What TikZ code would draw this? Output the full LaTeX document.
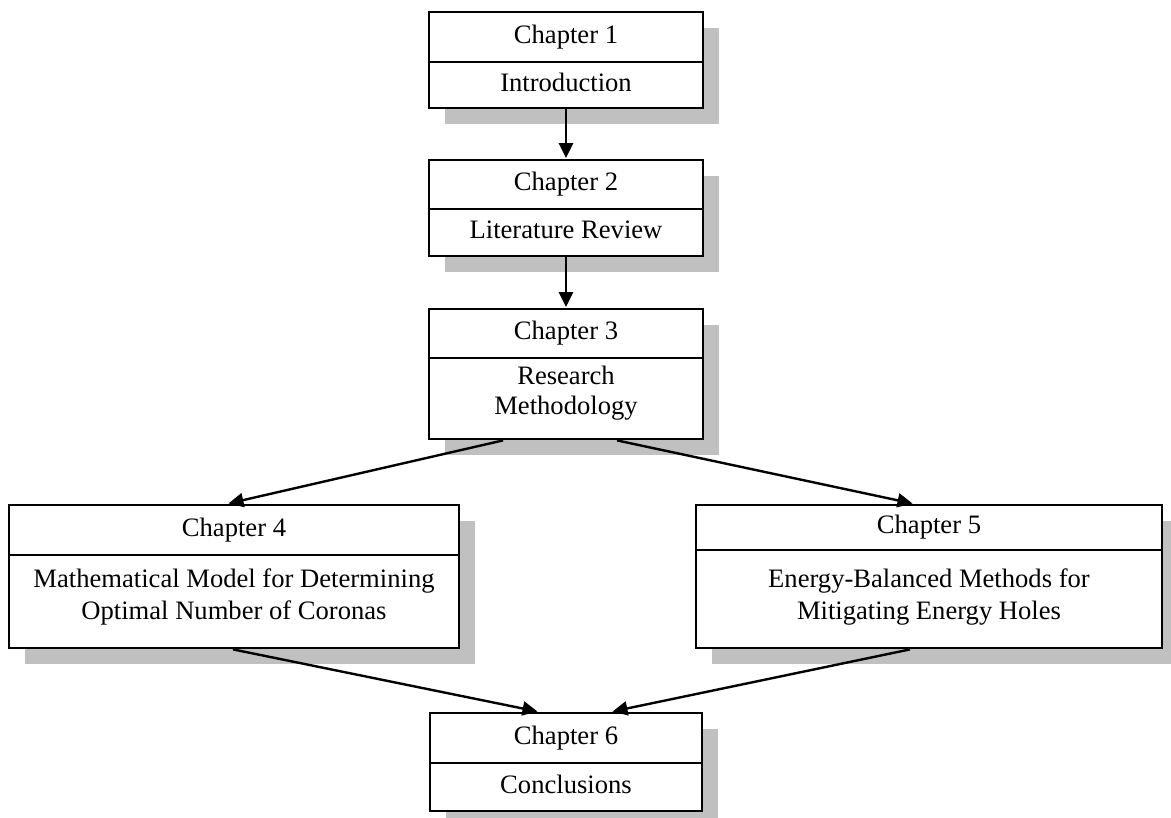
\documentclass[tikz,border=0pt]{standalone}
\usepackage{fontspec}
\setmainfont{Liberation Serif}
\usetikzlibrary{arrows.meta,shadows,calc}
\definecolor{shadowgray}{HTML}{C0C0C0}
\tikzset{
  chapbox/.style={draw=black, line width=2.8pt, fill=white, inner sep=0pt,
    drop shadow={shadow xshift=16pt, shadow yshift=-16pt, fill=shadowgray, opacity=1}},
  divider/.style={line width=2.6pt},
  label/.style={font=\fontsize{26.6}{31}\selectfont, align=center, inner sep=0pt},
  onelabel/.style={label, text height=0.7em, text depth=0.22em},
  conn/.style={line width=2.4pt, -{Triangle[length=15pt,width=14pt]}, shorten >=0.5pt}
}
\begin{document}
\begin{tikzpicture}[x=1pt,y=1pt]
\useasboundingbox (0,0) rectangle (1171,-818);
% boxes
\node[chapbox, minimum width=274pt, minimum height=96pt] (c1) at (566,-60) {};
\node[chapbox, minimum width=274pt, minimum height=96pt] (c2) at (566,-208) {};
\node[chapbox, minimum width=274pt, minimum height=130pt] (c3) at (566,-374) {};
\node[chapbox, minimum width=450pt, minimum height=143pt] (c4) at (234,-576.5) {};
\node[chapbox, minimum width=466pt, minimum height=143pt] (c5) at (929,-576.5) {};
\node[chapbox, minimum width=272pt, minimum height=98pt] (c6) at (566,-762) {};
% dividers
\draw[divider] (c1.west |- 0,-62) -- (c1.east |- 0,-62);
\draw[divider] (c2.west |- 0,-209) -- (c2.east |- 0,-209);
\draw[divider] (c3.west |- 0,-358) -- (c3.east |- 0,-358);
\draw[divider] (c4.west |- 0,-555) -- (c4.east |- 0,-555);
\draw[divider] (c5.west |- 0,-550) -- (c5.east |- 0,-550);
\draw[divider] (c6.west |- 0,-763) -- (c6.east |- 0,-763);
% texts
\node[onelabel] (h1) at (566,-41) {Chapter 1};
\node[onelabel] (b1) at (566,-89) {Introduction};
\node[onelabel] (h2) at (566,-188) {Chapter 2};
\node[onelabel] (b2) at (566,-236) {Literature Review};
\node[onelabel] (h3) at (566,-337) {Chapter 3};
\node[label, font=\fontsize{26.6}{30}\selectfont] (b3) at (566,-393) {Research\\Methodology};
\node[onelabel] (h4) at (234,-534) {Chapter 4};
\node[label, font=\fontsize{26.6}{32}\selectfont] (b4) at (234,-597) {Mathematical Model for Determining\\Optimal Number of Coronas};
\node[onelabel] (h5) at (929,-531) {Chapter 5};
\node[label, font=\fontsize{26.6}{32}\selectfont] (b5) at (929,-597) {Energy-Balanced Methods for\\Mitigating Energy Holes};
\node[onelabel] (h6) at (566,-742) {Chapter 6};
\node[onelabel] (b6) at (566,-791) {Conclusions};
% connectors
\draw[conn] (c1.south) -- (c2.north);
\draw[conn] (c2.south) -- (c3.north);
\draw[conn] ($(c3.south)+(-63,0)$) -- ($(c4.north)+(-6,0)$);
\draw[conn] ($(c3.south)+(51,0)$) -- ($(c5.north)+(-16,0)$);
\draw[conn] ($(c4.south)+(-1,0)$) -- ($(c6.north)+(-28,0)$);
\draw[conn] ($(c5.south)+(-19,0)$) -- ($(c6.north)+(46,0)$);
\end{tikzpicture}
\end{document}
